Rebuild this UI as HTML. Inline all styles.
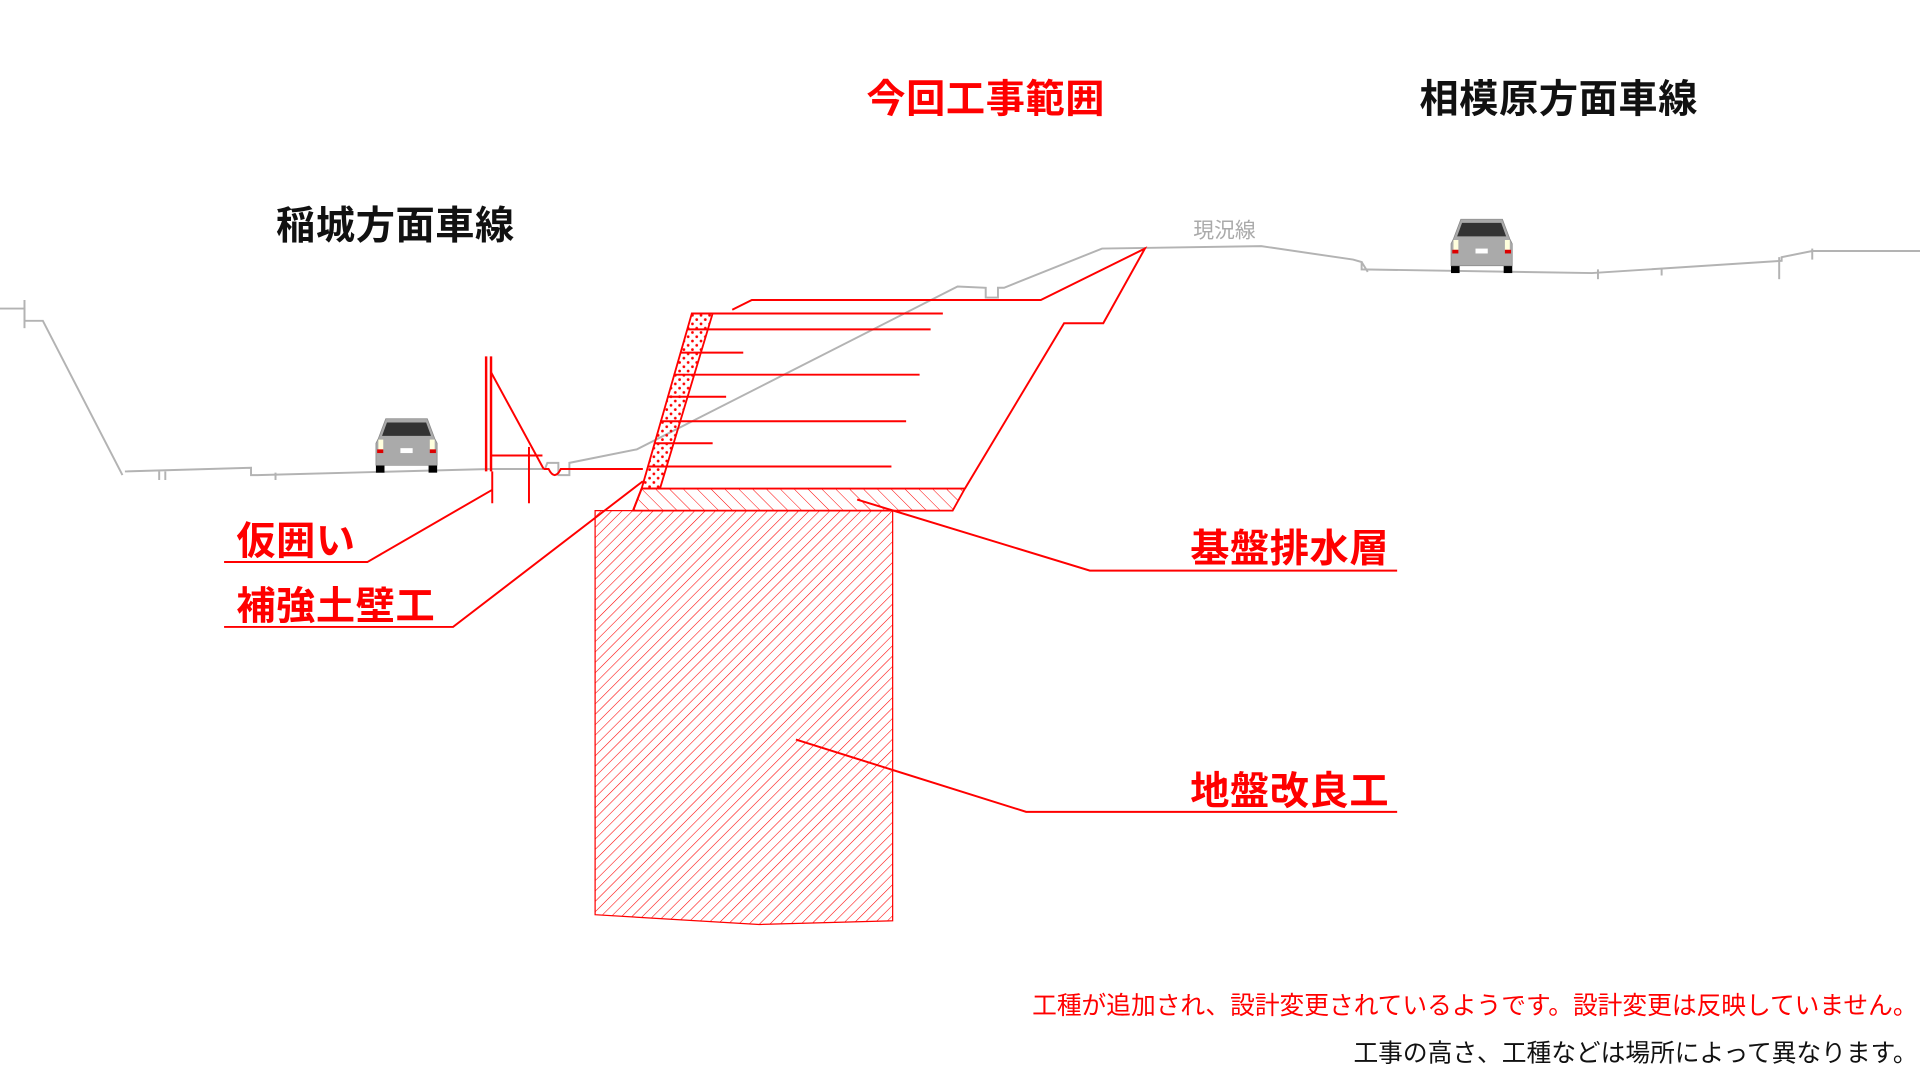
<!DOCTYPE html>
<html><head><meta charset="utf-8"><style>
html,body{margin:0;padding:0;background:#fff;width:1920px;height:1080px;overflow:hidden}
svg{display:block}
text{font-family:"Liberation Sans","Noto Sans CJK JP",sans-serif}
</style></head><body>
<svg width="1920" height="1080" viewBox="0 0 1568 882" xmlns="http://www.w3.org/2000/svg">
<defs>
<pattern id="h1" width="6" height="6" patternUnits="userSpaceOnUse" patternTransform="rotate(45)">
<line x1="0" y1="0" x2="0" y2="6" stroke="#f00" stroke-width="0.9"/></pattern>
<pattern id="h2" width="8" height="8" patternUnits="userSpaceOnUse" patternTransform="rotate(-45)">
<line x1="0" y1="0" x2="0" y2="8" stroke="#f00" stroke-width="0.8"/></pattern>
<pattern id="dots" width="7" height="7" patternUnits="userSpaceOnUse">
<circle cx="2" cy="2" r="1.1" fill="#f00"/><circle cx="5.5" cy="5.5" r="1.1" fill="#f00"/></pattern>
<g id="car">
<rect x="2" y="38" width="7" height="8" fill="#000"/><rect x="45" y="38" width="7" height="8" fill="#000"/>
<path d="M10 2 L44 2 L50 18 L52 22 L52 40 L2 40 L2 22 L4 18 Z" fill="#aaa" stroke="#888" stroke-width="0.6"/>
<path d="M11 5 L43 5 L47 16 L7 16 Z" fill="#333"/>
<rect x="4" y="19" width="4" height="8" fill="#ffd"/><rect x="46" y="19" width="4" height="8" fill="#ffd"/>
<rect x="3" y="27" width="5" height="3" fill="#d00"/><rect x="46" y="27" width="5" height="3" fill="#d00"/>
<rect x="22" y="26" width="10" height="4" fill="#fff"/>
</g>
</defs>

<g fill="none" stroke="#b3b3b3" stroke-width="1.6">
<polyline points="0,252 20,252 20,262 35,262 100,388"/>
<line x1="20" y1="245" x2="20" y2="268"/>
<polyline points="102,385 205,382 205,388 210,388 400,383"/>
<line x1="130" y1="385" x2="130" y2="392"/><line x1="135" y1="385" x2="135" y2="392"/>
<line x1="225" y1="386" x2="225" y2="392"/>
<polyline points="400,383 445,383 447,378 456,378 456,388 465,388 465,378 520,367 782,234 805,235 805,243 815,243 815,235 820,235 900,203 1030,201 1105,212 1112,214 1112,220 1300,223 1455,213 1455,210 1480,205 1568,205"/>
<line x1="1112" y1="214" x2="1117" y2="222"/>
<line x1="1305" y1="220" x2="1305" y2="228"/><line x1="1357" y1="219" x2="1357" y2="225"/>
<line x1="1453" y1="210" x2="1453" y2="228"/><line x1="1480" y1="203" x2="1480" y2="212"/>
</g>
<text x="1000" y="194" font-size="17" fill="#aaa" text-anchor="middle">現況線</text>

<path d="M486,417 L729,417 L729,752 L620,755 L486,747 Z" fill="url(#h1)" stroke="#f00" stroke-width="1"/>
<path d="M524,399 L788,399 L778,417 L517,417 Z" fill="url(#h2)" stroke="#f00" stroke-width="1.5"/>
<path d="M565,256 L582,256 L539,399 L524,399 Z" fill="url(#dots)" stroke="#f00" stroke-width="1.5"/>
<g stroke="#f00" stroke-width="1.6" fill="none">
<line x1="524" y1="399" x2="517" y2="417"/>
<line x1="565" y1="256" x2="770" y2="256"/>
<polyline points="598,253 614,245 850,245 935,203 901,264 869,264 788,399"/>
<line x1="561" y1="269" x2="760" y2="269"/>
<line x1="556" y1="288" x2="607" y2="288"/>
<line x1="550" y1="306" x2="751" y2="306"/>
<line x1="545" y1="324" x2="593" y2="324"/>
<line x1="539" y1="344" x2="740" y2="344"/>
<line x1="534" y1="362" x2="582" y2="362"/>
<line x1="529" y1="381" x2="728" y2="381"/>
<line x1="397" y1="291" x2="397" y2="385" stroke-width="2"/>
<line x1="401" y1="291" x2="401" y2="385" stroke-width="2"/>
<line x1="401" y1="304" x2="444" y2="383"/>
<line x1="401" y1="372" x2="443" y2="372"/>
<line x1="402" y1="385" x2="402" y2="411"/>
<line x1="432" y1="365" x2="432" y2="411"/>
<path d="M444,383 L448,383 Q453,393 458,383 L525,383"/>
<polyline points="183,459 300,459 402,400"/>
<polyline points="183,512 370,512 525,393"/>
<polyline points="1141,466 890,466 700,408"/>
<polyline points="1141,663 838,663 650,604"/>
</g>

<use href="#car" x="305" y="340"/>
<use href="#car" x="1183" y="177"/>

<g font-size="32" font-weight="bold" letter-spacing="0.5">
<text x="805" y="92" fill="#f00" text-anchor="middle">今回工事範囲</text>
<text x="1273" y="92" fill="#111" text-anchor="middle">相模原方面車線</text>
<text x="323" y="195" fill="#111" text-anchor="middle">稲城方面車線</text>
<text x="193" y="453" fill="#f00">仮囲い</text>
<text x="193" y="506" fill="#f00">補強土壁工</text>
<text x="972" y="459" fill="#f00">基盤排水層</text>
<text x="972" y="657" fill="#f00">地盤改良工</text>
</g>
<text x="1566" y="828" font-size="20.2" fill="#f00" text-anchor="end">工種が追加され、設計変更されているようです。設計変更は反映していません。</text>
<text x="1566" y="867" font-size="20.2" fill="#111" text-anchor="end">工事の高さ、工種などは場所によって異なります。</text>
</svg>
</body></html>
